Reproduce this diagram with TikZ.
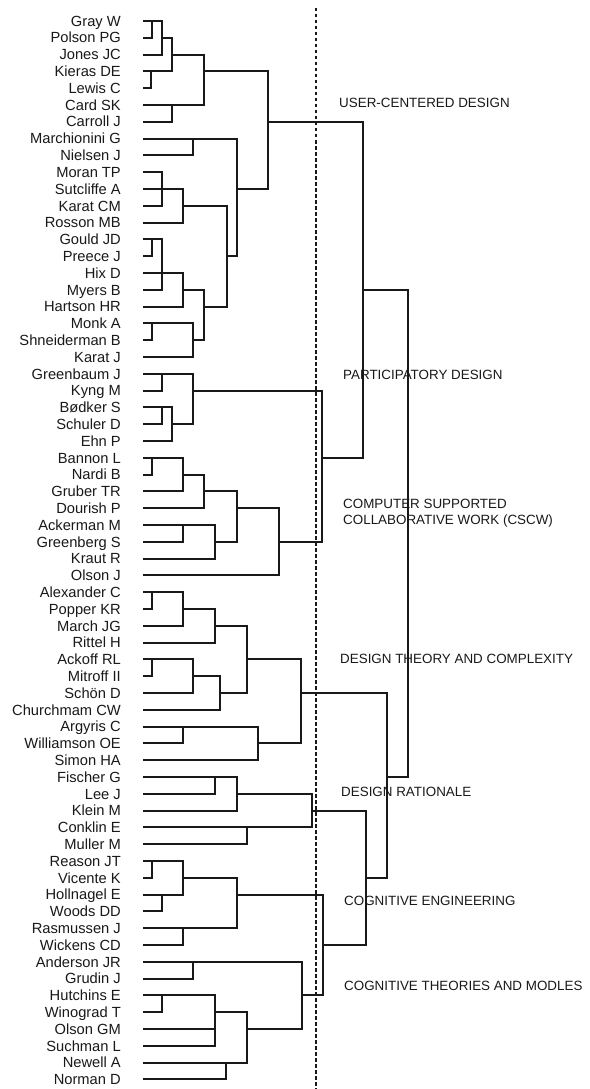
\documentclass[tikz,border=0pt]{standalone}
\usepackage{fontspec}
\setmainfont{Liberation Sans}
\definecolor{ink}{gray}{0.1}

\begin{document}
\begin{tikzpicture}[x=1pt,y=-1pt,
  leaf/.style={anchor=base east,inner sep=0pt,text=ink,font=\fontsize{14.7}{16}\selectfont},
  group/.style={anchor=base west,inner sep=0pt,text=ink,font=\fontsize{13.4}{16}\selectfont,align=left},
  link/.style={draw=ink,line width=2pt}]
\useasboundingbox[fill=white] (0,0) rectangle (589,1089);
\draw[ink,line width=1.5pt,dash pattern=on 3.5pt off 2.5pt] (316,8) -- (316,1089);
\foreach \name [count=\i from 0] in {Gray W,Polson PG,Jones JC,Kieras DE,Lewis C,Card SK,Carroll J,
  Marchionini G,Nielsen J,Moran TP,Sutcliffe A,Karat CM,Rosson MB,Gould JD,Preece J,Hix D,Myers B,
  Hartson HR,Monk A,Shneiderman B,Karat J,Greenbaum J,Kyng M,Bødker S,Schuler D,Ehn P,Bannon L,
  Nardi B,Gruber TR,Dourish P,Ackerman M,Greenberg S,Kraut R,Olson J,Alexander C,Popper KR,March JG,
  Rittel H,Ackoff RL,Mitroff II,Schön D,Churchmam CW,Argyris C,Williamson OE,Simon HA,Fischer G,
  Lee J,Klein M,Conklin E,Muller M,Reason JT,Vicente K,Hollnagel E,Woods DD,Rasmussen J,Wickens CD,
  Anderson JR,Grudin J,Hutchins E,Winograd T,Olson GM,Suchman L,Newell A,Norman D}{
  \pgfmathsetmacro\ry{21+16.8*\i}
  \node [leaf] (n\i) at (121,{\ry+5.2}) {\name};
  \coordinate (l\i) at (143,\ry);
}
\foreach \m/\x/\r/\a/\b in {
  a1/152/0/l0/l1, a2/162/1/a1/l2, a3/151/3/l3/l4, a4/172/2/a2/a3, a5/172/5/l5/l6, a6/204/3/a4/a5,
  b1/193/7/l7/l8, b2/162/9/l9/l10, b3/162/10/b2/l11, b4/183/11/b3/l12,
  b5/152/13/l13/l14, b6/162/14/b5/l15, b7/162/15/b6/l16, b8/183/16/b7/l17,
  b9/152/18/l18/l19, b10/193/19/b9/l20, b11/204/17/b8/b10, b12/227/14/b4/b11,
  b13/237/10/b1/b12, ucd/268/6/a6/b13,
  c1/162/21/l21/l22, c2/162/23/l23/l24, c3/172/24/c2/l25, c4/193/22/c1/c3,
  d1/152/26/l26/l27, d2/183/27/d1/l28, d3/204/28/d2/l29, d4/183/30/l30/l31,
  d5/215/31/d4/l32, d6/237/29/d3/d5, d7/279/31/d6/l33,
  pd/322/26/c4/d7, hci/363/16/ucd/pd,
  g1/152/34/l34/l35, g2/183/35/g1/l36, g3/215/36/g2/l37, g4/152/38/l38/l39,
  g5/193/39/g4/l40, g6/220/40/g5/l41, g7/247/38/g3/g6, g8/183/42/l42/l43,
  g9/258/43/g8/l44, dt/301/40/g7/g9,
  h1/215/45/l45/l46, h2/237/46/h1/l47, h3/247/48/l48/l49, dr/312/47/h2/h3,
  i1/152/50/l50/l51, i2/162/52/l52/l53, i3/183/51/i1/i2, i4/183/54/l54/l55, ce/237/52/i3/i4,
  j1/193/56/l56/l57, j2/162/58/l58/l59, j3/215/60/l60/l61, j4/215/59/j2/j3,
  j5/226/62/l62/l63, j6/247/60/j4/j5, ct/302/58/j1/j6,
  cog/323/55/ce/ct, drc/366/51/dr/cog, dsn/387/45/dt/drc, root/408/30/hci/dsn}{
  \coordinate (\m) at (\x,{21+16.8*\r});
  \draw [link] (\a) -| (\m) |- (\b);
}
\node [group] (ucdtext) at (339,107.8) {USER-CENTERED DESIGN};
\node [group] (pdtext) at (343,379.8) {PARTICIPATORY DESIGN};
\node [group,anchor=west] (cscwtext) at (343,513) {COMPUTER SUPPORTED\\COLLABORATIVE WORK (CSCW)};
\node [group] (dttext) at (340,663.8) {DESIGN THEORY AND COMPLEXITY};
\node [group] (drtext) at (341,796.8) {DESIGN RATIONALE};
\node [group] (cetext) at (344,905.8) {COGNITIVE ENGINEERING};
\node [group] (cttext) at (344,990.8) {COGNITIVE THEORIES AND MODLES};
\end{tikzpicture}
\end{document}
